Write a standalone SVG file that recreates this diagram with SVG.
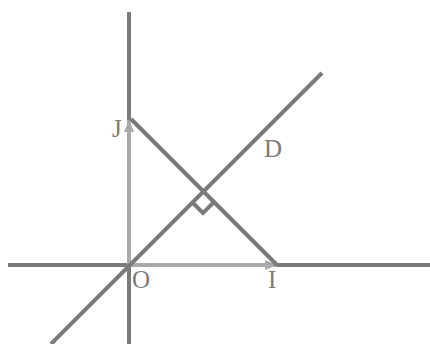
<svg xmlns="http://www.w3.org/2000/svg" width="430" height="344" viewBox="0 0 430 344">
<style>
.ax{stroke:#7b7b7b;stroke-width:4;fill:none}
.vec{stroke:#a9a9a9;stroke-width:4;fill:none}
.lbl{font-family:"Liberation Serif",serif;font-size:25px;fill:#7b7b7b}
</style>
<defs>
<marker id="ah" viewBox="0 0 12 10" refX="12" refY="5" markerWidth="12" markerHeight="10" markerUnits="userSpaceOnUse" orient="auto">
<path d="M0,0 L12,5 L0,10 Z" fill="#a9a9a9"/>
</marker>
</defs>
<rect width="430" height="344" fill="#ffffff"/>
<g id="connectors">
<line class="ax" x1="8" y1="265" x2="430" y2="265"/>
<line class="ax" x1="129" y1="12" x2="129" y2="344"/>
<line class="vec" x1="129" y1="265" x2="277" y2="265" marker-end="url(#ah)"/>
<line class="vec" x1="129" y1="265" x2="129" y2="120" marker-end="url(#ah)"/>
<line class="ax" x1="131" y1="119" x2="277" y2="265"/>
<line class="ax" x1="51" y1="344" x2="322" y2="73"/>
<path class="ax" stroke-width="3" d="M193,203 L203,213 L213,203"/>
</g>
<g id="O"><text class="lbl" x="132" y="288">O</text></g>
<g id="I"><text class="lbl" x="268" y="288">I</text></g>
<g id="J"><text class="lbl" x="112" y="137">J</text></g>
<g id="D"><text class="lbl" x="264" y="157">D</text></g>
</svg>
